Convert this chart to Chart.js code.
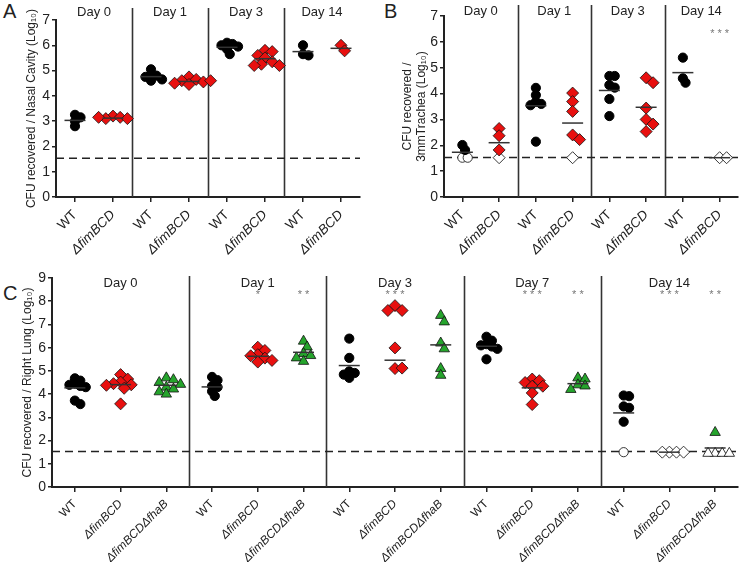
<!DOCTYPE html>
<html><head><meta charset="utf-8">
<script src="https://cdn.jsdelivr.net/npm/chart.js@4.4.1/dist/chart.umd.min.js"></script>
<style>
body{margin:0;background:#fff;width:750px;height:562px;position:relative;overflow:hidden;font-family:"Liberation Sans",Arial,sans-serif;}
canvas{position:absolute;}
.letter{position:absolute;font-size:20px;color:#222;line-height:20px;}
</style></head><body>
<div class="letter" style="left:3px;top:1px">A</div>
<div class="letter" style="left:384px;top:1px">B</div>
<div class="letter" style="left:3px;top:283px">C</div>
<canvas id="ca" width="378" height="262" style="left:0;top:0"></canvas>
<canvas id="cb" width="372" height="262" style="left:378px;top:0"></canvas>
<canvas id="cc" width="750" height="300" style="left:0;top:262px"></canvas>
<script>
// ---------------- DATA ----------------
const catsAB = ['WT','ΔfimBCD','WT','ΔfimBCD','WT','ΔfimBCD','WT','ΔfimBCD'];
const daysAB = ['Day 0','Day 1','Day 3','Day 14'];
// Panel A: nasal cavity
const nasalWT  = [[3.25,3.15,3.0,2.8],[5.05,4.85,4.8,4.75,4.65,4.6],[6.1,6.05,6.0,5.95,5.85,5.65],[6.0,5.65,5.6]];
const nasalFim = [[3.2,3.15,3.1,3.1,3.15],[4.75,4.65,4.6,4.55,4.5,4.45,4.6],[5.8,5.75,5.6,5.5,5.35,5.25,5.2,5.2],[6.0,5.78]];
const nasalWTMean  = [3.03,4.76,5.92,5.75];
const nasalFimMean = [3.12,4.57,5.47,5.88];
// Panel B: trachea (open = at limit of detection)
const trachWT      = [[2.01,1.82],[4.22,3.94,3.68,3.6,3.55,2.14],[4.68,4.68,4.33,4.23,3.79,3.13],[5.39,4.59,4.42]];
const trachWTOpen  = [[1.52,1.52],[],[],[]];
const trachFim     = [[2.65,2.37,1.82],[4.02,3.69,3.31,2.4,2.22],[4.61,4.42,3.44,3.0,2.82,2.53],[]];
const trachFimOpen = [[1.52],[1.52],[],[1.52,1.52]];
const trachWTMean  = [1.73,3.53,4.12,4.81];
const trachFimMean = [2.1,2.86,3.47,1.52];
const sigB = ['','','','','','','','***'];
// Panel C: right lung
const catsC = ['WT','ΔfimBCD','ΔfimBCDΔfhaB','WT','ΔfimBCD','ΔfimBCDΔfhaB','WT','ΔfimBCD','ΔfimBCDΔfhaB','WT','ΔfimBCD','ΔfimBCDΔfhaB','WT','ΔfimBCD','ΔfimBCDΔfhaB'];
const daysC = ['Day 0','Day 1','Day 3','Day 7','Day 14'];
const lungWT      = [[4.68,4.58,4.45,4.4,4.35,4.3,3.72,3.57],[4.74,4.6,4.35,4.3,4.12,3.92],[6.39,5.56,4.98,4.91,4.84,4.7],[6.47,6.3,6.15,6.1,6.05,5.95,5.5],[3.94,3.91,3.47,3.41,2.81]];
const lungWTOpen  = [[],[],[],[],[1.5]];
const lungFim     = [[4.84,4.65,4.52,4.45,4.4,4.38,4.25,3.58],[6.02,5.88,5.7,5.65,5.55,5.45,5.38],[7.81,7.6,7.6,5.99,5.1,5.12],[4.65,4.58,4.5,4.34,4.34,4.05,3.55],[]];
const lungFimOpen = [[],[],[],[],[1.5,1.5,1.5,1.5]];
const lungTri     = [[4.7,4.62,4.5,4.42,4.3,4.22,4.1,4.0],[6.28,6.03,5.75,5.66,5.56,5.41],[7.39,7.11,6.2,5.95,5.1,4.81],[4.7,4.65,4.4,4.35,4.2],[2.35]];
const lungTriOpen = [[],[],[],[],[1.45,1.45,1.45,1.45]];
const lungWTMean  = [4.27,4.31,5.23,6.06,3.19];
const lungFimMean = [4.41,5.63,5.46,4.27,1.5];
const lungTriMean = [4.38,5.8,6.12,4.45,1.68];
const sigC = ['','','','','*','**','','***','','','***','**','','***','**'];
const detectionLimit = 1.53;

// ---------------- HELPERS ----------------
const FONT = '"Liberation Sans", Arial, sans-serif';
function swarm(vals, pxY, r) {
  const placed = [], out = [];
  vals.forEach(v => {
    const y = v * pxY;
    for (let k = 0; k < 40; k++) {
      const c = (k % 2 ? 1 : -1) * Math.ceil(k / 2) * r * 0.6;
      if (placed.every(p => Math.hypot(p.x - c, p.y - y) >= r * 1.1)) {
        placed.push({x: c, y}); out.push(c); break;
      }
    }
  });
  return out;
}
const deco = {
  id: 'deco',
  beforeDatasetsDraw(chart, args, o) {
    const {ctx, chartArea: a, scales: {x, y}} = chart;
    ctx.save();
    ctx.strokeStyle = '#333'; ctx.lineWidth = 1.6;
    for (let d = 1; d < o.days.length; d++) {
      const px = Math.round(x.getPixelForValue(d * o.nPer - 0.5)) + 0.5;
      ctx.beginPath(); ctx.moveTo(px, o.divTop); ctx.lineTo(px, a.bottom); ctx.stroke();
    }
    const py = y.getPixelForValue(o.limit);
    ctx.lineWidth = 1.5; ctx.strokeStyle = '#222';
    ctx.setLineDash([8, 5]);
    ctx.beginPath(); ctx.moveTo(a.left, py); ctx.lineTo(a.right, py); ctx.stroke();
    ctx.restore();
  },
  afterDraw(chart, args, o) {
    const {ctx, scales: {x, y}} = chart;
    ctx.save();
    ctx.fillStyle = '#222'; ctx.font = '13px ' + FONT;
    ctx.textAlign = 'center'; ctx.textBaseline = 'middle';
    o.days.forEach((d, i) => {
      ctx.fillText(d, x.getPixelForValue(i * o.nPer + (o.nPer - 1) / 2), o.dayY);
    });
    ctx.fillStyle = '#777'; ctx.font = '11px ' + FONT;
    (o.sig || []).forEach((s, i) => {
      if (s) ctx.fillText(s.split('').join(' '), x.getPixelForValue(i), y.getPixelForValue(o.sigVal));
    });
    ctx.restore();
  }
};
function makeChart(id, c) {
  const datasets = [];
  const meanPts = [];
  c.means.forEach((arr, g) => arr.forEach((m, d) => meanPts.push({x: d * c.nPer + g, y: m})));
  datasets.push({data: meanPts, pointStyle: 'line', pointRadius: 10.5, borderColor: '#333', borderWidth: 1.5});
  c.series.forEach((s, g) => {
    const fill = [], open = [];
    for (let d = 0; d < c.days.length; d++) {
      const f = s.filled[d] || [], o = s.open[d] || [];
      const offs = swarm(f.concat(o), c.pxY, s.radius);
      const cat = d * c.nPer + g;
      f.forEach((v, i) => fill.push({x: cat + offs[i] / c.pxX, y: v}));
      o.forEach((v, i) => open.push({x: cat + offs[f.length + i] / c.pxX, y: v}));
    }
    datasets.push({data: fill, pointStyle: s.style, pointRadius: s.radius, backgroundColor: s.color, borderColor: s.border, borderWidth: s.bw});
    datasets.push({data: open, pointStyle: s.style, pointRadius: s.radius, backgroundColor: '#fff', borderColor: '#222', borderWidth: 0.9});
  });
  return new Chart(document.getElementById(id), {
    type: 'scatter',
    data: {datasets},
    plugins: [deco],
    options: {
      responsive: false, animation: false, events: [],
      layout: {padding: c.pad},
      plugins: {legend: {display: false}, tooltip: {enabled: false},
        deco: {days: c.days, nPer: c.nPer, divTop: c.divTop, dayY: c.dayY, limit: detectionLimit, sig: c.sig, sigVal: c.sigVal}},
      scales: {
        x: {
          type: 'linear', min: -0.5, max: c.cats.length - 0.5,
          afterBuildTicks: s => { s.ticks = c.cats.map((_, i) => ({value: i})); },
          afterFit: s => { s.height = c.xH; },
          ticks: {autoSkip: false, maxRotation: 45, minRotation: 45, padding: 5, color: '#222',
            callback: v => c.cats[v],
            font: ctx => ({family: FONT, size: c.xFont, style: (c.cats[ctx.index] || '').startsWith('Δ') ? 'italic' : 'normal'})},
          grid: {drawOnChartArea: false, drawTicks: true, tickLength: 5, color: '#222', lineWidth: 1.5},
          border: {color: '#222', width: 2}
        },
        y: {
          min: 0, max: c.yMax,
          afterFit: s => { s.width = c.yW; },
          ticks: {stepSize: 1, color: '#222', font: {family: FONT, size: 14}, padding: 2},
          grid: {drawOnChartArea: false, drawTicks: true, tickLength: 4, color: '#222', lineWidth: 1.5},
          border: {color: '#222', width: 2},
          title: {display: true, text: c.yTitle, color: '#222', font: {family: FONT, size: 12}, padding: {top: 0, bottom: 0}}
        }
      }
    }
  });
}
const circ = (filled, open) => ({filled, open, style: 'circle', radius: 4.6, color: '#000', border: '#000', bw: 1});
const diam = (filled, open) => ({filled, open, style: 'rectRot', radius: 6, color: '#e8100f', border: '#111', bw: 0.8});
const tri  = (filled, open) => ({filled, open, style: 'triangle', radius: 6, color: '#25a42c', border: '#111', bw: 0.8});
const none = d => d.map(() => []);

makeChart('ca', {cats: catsAB, days: daysAB, nPer: 2, yMax: 7,
  series: [circ(nasalWT, none(nasalWT)), diam(nasalFim, none(nasalFim))],
  means: [nasalWTMean, nasalFimMean],
  yTitle: 'CFU recovered / Nasal Cavity (Log₁₀)', xFont: 13.5,
  pad: {left: 24, top: 20, right: 18, bottom: 0}, yW: 32, xH: 65,
  pxY: 25.3, pxX: 38, divTop: 8, dayY: 12});
makeChart('cb', {cats: catsAB, days: daysAB, nPer: 2, yMax: 7,
  series: [circ(trachWT, trachWTOpen), diam(trachFim, trachFimOpen)],
  means: [trachWTMean, trachFimMean],
  yTitle: ['CFU recovered /', '3mmTrachea (Log₁₀)'], xFont: 13.5,
  sig: sigB, sigVal: 6.3,
  pad: {left: 22, top: 16, right: 2, bottom: 0}, yW: 44, xH: 65,
  pxY: 25.9, pxX: 38, divTop: 5, dayY: 11});
makeChart('cc', {cats: catsC, days: daysC, nPer: 3, yMax: 9,
  series: [circ(lungWT, lungWTOpen), diam(lungFim, lungFimOpen), tri(lungTri, lungTriOpen)],
  means: [lungWTMean, lungFimMean, lungTriMean],
  yTitle: 'CFU recovered / Right Lung (Log₁₀)', xFont: 12,
  sig: sigC, sigVal: 8.25,
  pad: {left: 20, top: 16, right: 2, bottom: 0}, yW: 32, xH: 75,
  pxY: 23.2, pxX: 46.4, divTop: 14, dayY: 21});
</script>
</body></html>
